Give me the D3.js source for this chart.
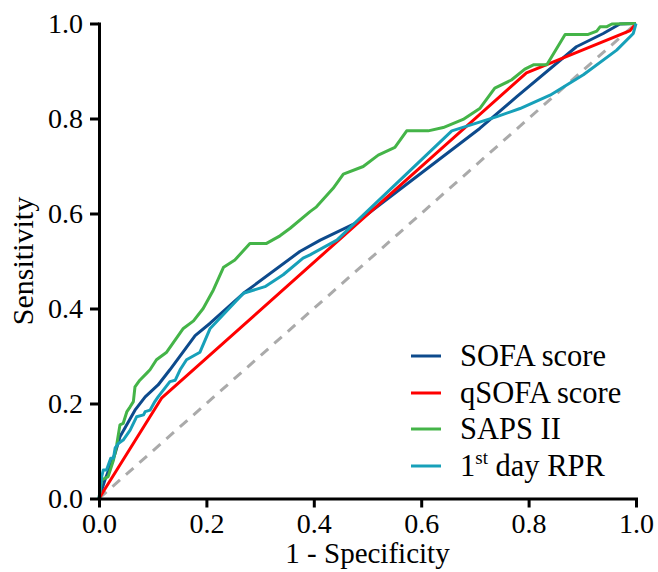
<!DOCTYPE html>
<html>
<head>
<meta charset="utf-8">
<script src="https://cdn.jsdelivr.net/npm/d3@7"></script>
<style>
  html, body { margin: 0; padding: 0; background: #fff; }
  svg text { font-family: "Liberation Serif", "Times New Roman", serif; }
</style>
</head>
<body>
<svg id="chart" width="658" height="572"></svg>
<script>
// ---- data ----
const seriesNames = ["SOFA score", "qSOFA score", "SAPS II", "1st day RPR"];
const seriesColors = ["#0d4a8c", "#ff0000", "#44b448", "#17a0b9"];

const sofaX = [0, 0.011, 0.030, 0.039, 0.048, 0.067, 0.086, 0.110, 0.132, 0.179, 0.207, 0.269, 0.374, 0.412, 0.477, 0.709, 0.778, 0.889, 0.939, 0.970, 1.0];
const sofaY = [0, 0.039, 0.095, 0.130, 0.148, 0.186, 0.214, 0.239, 0.271, 0.343, 0.369, 0.432, 0.520, 0.544, 0.579, 0.779, 0.846, 0.951, 0.979, 0.999, 1.0];

const qsofaX = [0, 0.117, 0.796, 0.989, 1.0];
const qsofaY = [0, 0.212, 0.896, 0.985, 1.0];

const sapsX = [0, 0.005, 0.017, 0.027, 0.033, 0.039, 0.045, 0.052, 0.058, 0.064, 0.067, 0.076, 0.089, 0.095, 0.107, 0.126, 0.157, 0.176, 0.194, 0.213, 0.232, 0.253, 0.281, 0.312, 0.337, 0.356, 0.393, 0.405, 0.436, 0.455, 0.492, 0.520, 0.551, 0.573, 0.613, 0.641, 0.678, 0.709, 0.737, 0.768, 0.793, 0.809, 0.834, 0.868, 0.911, 0.927, 0.933, 0.945, 0.955, 1.0];
const sapsY = [0, 0.039, 0.046, 0.081, 0.113, 0.155, 0.158, 0.183, 0.193, 0.204, 0.235, 0.249, 0.264, 0.271, 0.292, 0.308, 0.358, 0.374, 0.400, 0.439, 0.487, 0.502, 0.537, 0.537, 0.553, 0.569, 0.604, 0.614, 0.653, 0.683, 0.699, 0.723, 0.739, 0.774, 0.774, 0.781, 0.798, 0.821, 0.864, 0.881, 0.904, 0.913, 0.913, 0.977, 0.977, 0.984, 0.993, 0.993, 0.999, 1.0];

const rprX = [0, 0.005, 0.008, 0.014, 0.022, 0.027, 0.030, 0.036, 0.045, 0.058, 0.070, 0.083, 0.086, 0.095, 0.104, 0.110, 0.132, 0.142, 0.151, 0.163, 0.188, 0.207, 0.269, 0.309, 0.343, 0.380, 0.393, 0.443, 0.657, 0.691, 0.741, 0.784, 0.840, 0.902, 0.964, 0.995, 1.0];
const rprY = [0, 0.046, 0.060, 0.060, 0.085, 0.085, 0.106, 0.116, 0.123, 0.144, 0.172, 0.176, 0.183, 0.186, 0.204, 0.214, 0.246, 0.249, 0.271, 0.292, 0.308, 0.358, 0.432, 0.446, 0.471, 0.506, 0.513, 0.544, 0.774, 0.786, 0.804, 0.821, 0.849, 0.892, 0.944, 0.979, 1.0];

const refX = [0, 1];
const refY = [0, 1];

const xTicks = [0, 0.2, 0.4, 0.6, 0.8, 1.0];
const yTicks = [0, 0.2, 0.4, 0.6, 0.8, 1.0];

// ---- layout ----
const svg = d3.select("#chart");
const margin = { left: 99, top: 23.5 };
const W = 537, H = 475;
const FS = 28;

const x = d3.scaleLinear().domain([0, 1]).range([0, W]);
const y = d3.scaleLinear().domain([0, 1]).range([H, 0]);

const g = svg.append("g").attr("transform", `translate(${margin.left},${margin.top})`);

const line = d3.line().x(d => x(d[0])).y(d => y(d[1]));

// reference diagonal
g.append("path")
  .datum(d3.zip(refX, refY))
  .attr("d", line)
  .attr("fill", "none")
  .attr("stroke", "#aaaaaa")
  .attr("stroke-width", 3)
  .attr("stroke-dasharray", "10,8");

const seriesData = [
  d3.zip(sofaX, sofaY),
  d3.zip(qsofaX, qsofaY),
  d3.zip(sapsX, sapsY),
  d3.zip(rprX, rprY)
];

seriesData.forEach((pts, i) => {
  g.append("path")
    .datum(pts)
    .attr("d", line)
    .attr("fill", "none")
    .attr("stroke", seriesColors[i])
    .attr("stroke-width", 3)
    .attr("stroke-linejoin", "round");
});

// axes
const fmt = d3.format(".1f");
const xAxis = g.append("g")
  .attr("transform", `translate(0,${H})`)
  .call(d3.axisBottom(x).tickValues(xTicks).tickFormat(fmt).tickSize(9).tickSizeOuter(0).tickPadding(6));
const yAxis = g.append("g")
  .call(d3.axisLeft(y).tickValues(yTicks).tickFormat(fmt).tickSize(9).tickSizeOuter(0).tickPadding(7));

[xAxis, yAxis].forEach(a => {
  a.attr("font-family", null).attr("font-size", null);
  a.selectAll("path, line").attr("stroke", "#000").attr("stroke-width", 3);
  a.selectAll("text").attr("fill", "#000").style("font-size", FS + "px")
    .style("font-family", '"Liberation Serif", "Times New Roman", serif');
});
xAxis.select(".domain").attr("stroke-linecap", "square");
yAxis.select(".domain").attr("stroke-linecap", "square");

// axis labels
svg.append("text")
  .attr("x", margin.left + W / 2)
  .attr("y", 563)
  .attr("text-anchor", "middle")
  .style("font-size", "29px")
  .text("1 - Specificity");

svg.append("text")
  .attr("transform", `translate(33,${margin.top + H / 2}) rotate(-90)`)
  .attr("text-anchor", "middle")
  .style("font-size", "30px")
  .text("Sensitivity");

// legend
const legY = [356, 393, 429, 466];
const leg = svg.append("g");
seriesNames.forEach((name, i) => {
  leg.append("line")
    .attr("x1", 411).attr("x2", 441)
    .attr("y1", legY[i]).attr("y2", legY[i])
    .attr("stroke", seriesColors[i])
    .attr("stroke-width", 3);
  const t = leg.append("text")
    .attr("x", 460)
    .attr("y", legY[i] + 10)
    .style("font-size", "30.5px");
  if (name === "1st day RPR") {
    t.append("tspan").text("1");
    t.append("tspan").attr("dy", -12).style("font-size", "19px").text("st");
    t.append("tspan").attr("dy", 12).text(" day RPR");
  } else {
    t.text(name);
  }
});
</script>
</body>
</html>
